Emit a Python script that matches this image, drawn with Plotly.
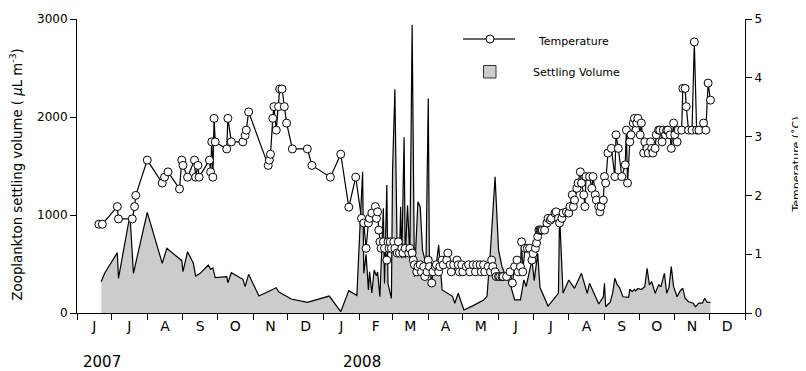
import pandas as pd
import plotly.graph_objects as go

# ---------------- data ----------------
# sampling day = days since 1 June 2007
vol_day = [21, 24, 35, 36, 46, 49, 61, 74, 78, 91,
           92, 96, 101, 103, 107, 114, 116, 118, 120, 130,
           131, 134, 144, 146, 149, 158, 173, 175, 186, 200,
           219, 229, 236, 243, 246, 248, 249, 251, 253, 254,
           256, 258, 260, 261, 263, 266, 267, 269, 270, 273,
           274, 276, 278, 280, 281, 282, 284, 285, 287, 289,
           291, 293, 296, 298, 300, 303, 305, 306, 311, 314,
           317, 322, 326, 328, 331, 333, 336, 344, 353, 356,
           359, 363, 366, 369, 373, 376, 380, 385, 388, 390,
           395, 397, 400, 402, 409, 418, 419, 422, 427, 432,
           438, 443, 445, 453, 457, 458, 459, 463, 465, 467,
           469, 471, 474, 479, 480, 482, 484, 485, 487, 490,
           493, 495, 497, 499, 502, 505, 507, 510, 512, 514,
           516, 518, 521, 524, 526, 528, 531, 535, 537, 540,
           543, 545, 547, 550]
vol_val = [319, 405, 615, 354, 1000, 405, 1027, 507, 660, 534,
           422, 626, 507, 378, 405, 490, 446, 460, 360, 370,
           309, 411, 344, 269, 395, 173, 258, 217, 143, 109,
           173, 13, 228, 180, 950, 1442, 405, 600, 235, 420,
           204, 439, 380, 420, 166, 1068, 300, 1306, 300, 150,
           1460, 2283, 600, 580, 1085, 560, 1793, 560, 1100, 560,
           2939, 370, 1136, 1085, 640, 500, 2190, 420, 400, 694,
           235, 201, 170, 99, 201, 130, 31, 75, 133, 170,
           643, 1391, 643, 472, 354, 300, 133, 133, 337, 269,
           541, 330, 610, 260, 71, 201, 1000, 201, 337, 252,
           405, 201, 303, 92, 166, 303, 64, 110, 200, 354,
           290, 260, 166, 160, 242, 220, 240, 225, 250, 240,
           269, 456, 286, 320, 201, 286, 270, 405, 201, 260,
           473, 269, 166, 230, 252, 150, 115, 99, 64, 100,
           100, 150, 110, 109]

temp_day = [19, 22, 35, 36, 48, 50, 51, 61, 74, 76,
            79, 89, 91, 92, 96, 102, 103, 105, 106, 115,
            116, 117, 118, 119, 120, 130, 131, 134, 144, 146,
            147, 149, 166, 167, 168, 170, 171, 173, 175, 176,
            178, 180, 182, 187, 200, 204, 220, 229, 236, 242,
            247, 249, 251, 253, 254, 256, 259, 260, 261, 262,
            263, 264, 266, 267, 269, 270, 271, 272, 273, 275,
            276, 278, 279, 280, 282, 283, 285, 288, 289, 291,
            292, 293, 295, 296, 298, 299, 301, 302, 304, 305,
            306, 308, 309, 311, 312, 314, 315, 317, 318, 321,
            322, 324, 325, 327, 330, 331, 332, 334, 335, 338,
            340, 341, 344, 346, 347, 350, 351, 353, 354, 357,
            359, 360, 361, 363, 364, 366, 367, 369, 370, 373,
            376, 378, 380, 382, 383, 385, 386, 387, 389, 391,
            393, 395, 396, 398, 399, 400, 401, 402, 403, 404,
            406, 408, 409, 411, 412, 415, 416, 418, 419, 421,
            422, 425, 427, 428, 430, 431, 432, 434, 435, 437,
            438, 440, 441, 442, 445, 447, 448, 450, 451, 453,
            454, 455, 457, 458, 459, 461, 464, 467, 468, 470,
            473, 476, 477, 478, 480, 481, 483, 484, 486, 487,
            489, 490, 492, 493, 495, 496, 498, 499, 500, 502,
            503, 505, 506, 508, 509, 511, 512, 513, 515, 516,
            518, 519, 521, 522, 525, 526, 528, 529, 531, 534,
            536, 538, 540, 544, 546, 548, 550]
temp_val = [1.51, 1.51, 1.81, 1.60, 1.60, 1.81, 2.00, 2.60, 2.21, 2.31,
            2.40, 2.11, 2.60, 2.51, 2.31, 2.60, 2.31, 2.51, 2.31, 2.60,
            2.40, 2.91, 2.31, 3.31, 2.91, 2.79, 3.31, 2.91, 2.91, 3.02,
            3.11, 3.42, 2.51, 2.60, 2.70, 3.31, 3.51, 3.11, 3.51, 3.81,
            3.81, 3.51, 3.23, 2.79, 2.79, 2.51, 2.31, 2.70, 1.80, 2.31,
            1.61, 1.53, 1.10, 1.53, 1.61, 1.70, 1.81, 1.61, 1.72, 1.41,
            1.21, 1.10, 1.21, 1.10, 0.90, 1.21, 1.10, 1.21, 1.10, 1.21,
            1.10, 1.02, 1.21, 1.02, 1.10, 1.02, 1.10, 1.02, 1.10, 1.02,
            0.90, 0.82, 0.70, 0.79, 0.82, 0.70, 0.79, 0.62, 0.70, 0.90,
            0.79, 0.51, 0.70, 0.79, 0.82, 0.70, 0.79, 0.90, 0.82, 0.90,
            1.02, 0.82, 0.70, 0.82, 0.90, 0.82, 0.70, 0.82, 0.70, 0.79,
            0.82, 0.70, 0.82, 0.70, 0.82, 0.82, 0.70, 0.82, 0.70, 0.79,
            0.70, 0.90, 0.79, 0.70, 0.62, 0.62, 0.62, 0.62, 0.62, 0.62,
            0.70, 0.51, 0.79, 0.90, 0.70, 0.79, 1.21, 0.70, 1.10, 1.10,
            1.10, 0.90, 1.01, 1.10, 1.19, 1.30, 1.41, 1.41, 1.41, 1.41,
            1.41, 1.53, 1.61, 1.58, 1.61, 1.70, 1.72, 1.61, 1.53, 1.61,
            1.70, 1.72, 1.70, 1.81, 2.01, 1.81, 1.92, 2.12, 2.21, 2.40,
            2.21, 2.01, 1.81, 2.32, 2.32, 2.12, 2.32, 2.01, 1.92, 1.81,
            1.72, 1.81, 1.92, 2.32, 2.21, 2.72, 2.80, 2.32, 3.03, 2.80,
            2.32, 2.52, 3.11, 2.21, 2.91, 3.03, 3.23, 3.31, 3.23, 3.31,
            3.03, 3.23, 2.72, 2.91, 2.80, 2.72, 2.91, 2.80, 2.72, 2.80,
            3.03, 3.11, 3.11, 2.91, 3.11, 3.03, 3.11, 3.11, 3.03, 2.80,
            3.23, 3.03, 2.91, 3.11, 3.11, 3.82, 3.82, 3.51, 3.11, 3.11,
            4.61, 3.11, 3.11, 3.23, 3.11, 3.91, 3.62]

month_labels = ["J", "J", "A", "S", "O", "N", "D", "J", "F", "M",
                "A", "M", "J", "J", "A", "S", "O", "N", "D"]
year_labels = ["2007", "2008"]
vol_ticks = [0, 1000, 2000, 3000]

# ---------------- derived ----------------
base = pd.Timestamp("2007-06-01")
vol_dates = base + pd.to_timedelta(vol_day, unit="D")
temp_dates = base + pd.to_timedelta(temp_day, unit="D")
month_starts = pd.date_range("2007-06-01", "2009-01-01", freq="MS")
month_mids = [month_starts[i] + (month_starts[i + 1] - month_starts[i]) / 2
              for i in range(len(month_starts) - 1)]

FONT = "DejaVu Sans"
fig = go.Figure()
fig.add_trace(go.Scatter(
    x=vol_dates, y=vol_val, mode="lines", fill="tozeroy",
    fillcolor="#cccccc", line=dict(color="black", width=1.2),
    name="Settling Volume", showlegend=False, yaxis="y"))
fig.add_trace(go.Scatter(
    x=temp_dates, y=temp_val, mode="lines+markers",
    line=dict(color="black", width=1.2),
    marker=dict(size=8, color="white", line=dict(color="black", width=1)),
    name="Temperature", showlegend=False, yaxis="y2"))

# plot area in screen pixels: x 77..745, y 19..313 (page has 8px body offset)
W, H = 806, 371
L, R, T, B = 69, 69, 11, 66
pw, ph = W - L - R, H - T - B
OFF = 8


def px(xs):
    return (xs - OFF - L) / pw


def py(ys):
    return (H - B - (ys - OFF)) / ph


fig.update_layout(
    width=W, height=H, margin=dict(l=L, r=R, t=T, b=B, autoexpand=False),
    paper_bgcolor="white", plot_bgcolor="white",
    font=dict(family=FONT, size=12, color="black"),
    showlegend=False,
    xaxis=dict(
        type="date", range=[month_starts[0], month_starts[-1]],
        tickmode="array", tickvals=month_mids, ticktext=month_labels,
        ticks="outside", ticklen=0, tickcolor="rgba(0,0,0,0)",
        minor=dict(dtick="M1", tick0="2007-06-01", ticks="outside",
                   ticklen=6, tickwidth=1, tickcolor="black", showgrid=False),
        showline=True, linecolor="black", linewidth=1, automargin=False,
        showgrid=False, zeroline=False, tickfont=dict(size=14)),
    yaxis=dict(
        range=[0, 3000], tickmode="array", tickvals=vol_ticks,
        ticks="outside", ticklen=6, tickcolor="black", automargin=False,
        showline=True, linecolor="black", linewidth=1,
        showgrid=False, zeroline=False, tickfont=dict(size=12)),
    yaxis2=dict(
        range=[0, 5], dtick=1, overlaying="y", side="right",
        ticks="outside", ticklen=6, tickcolor="black", automargin=False,
        showline=True, linecolor="black", linewidth=1,
        showgrid=False, zeroline=False, tickfont=dict(size=12)),
)

ann = [
    dict(text="Zooplankton settling volume ( <i>μ</i>L m<sup>-3</sup>)",
         x=px(16.5), y=py(175), textangle=-90, font=dict(size=13.3)),
    dict(text="Temperature (˚C)", x=px(795.5), y=py(165), textangle=-90,
         font=dict(size=11)),
    dict(text=year_labels[0], x=px(102), y=py(362), font=dict(size=15)),
    dict(text=year_labels[1], x=px(362), y=py(362), font=dict(size=15)),
    dict(text="Temperature", x=px(536), y=py(41.5), xanchor="left",
         font=dict(size=11)),
    dict(text="Settling Volume", x=px(531), y=py(72.3), xanchor="left",
         font=dict(size=11)),
]
for a in ann:
    a.setdefault("xanchor", "center")
    a.update(xref="paper", yref="paper", showarrow=False, yanchor="middle")
fig.update_layout(annotations=ann)

shapes = [
    dict(type="line", x0=px(463), x1=px(515), y0=py(39), y1=py(39),
         line=dict(color="#333333", width=1.5)),
    dict(type="circle", x0=px(486), x1=px(494), y0=py(43), y1=py(35),
         fillcolor="white", line=dict(color="black", width=1)),
    dict(type="rect", x0=px(483.5), x1=px(496), y0=py(78), y1=py(65.5),
         fillcolor="#cccccc", line=dict(color="#333333", width=1)),
]
for s in shapes:
    s.update(xref="paper", yref="paper")
fig.update_layout(shapes=shapes)

fig.write_html("out.html")
